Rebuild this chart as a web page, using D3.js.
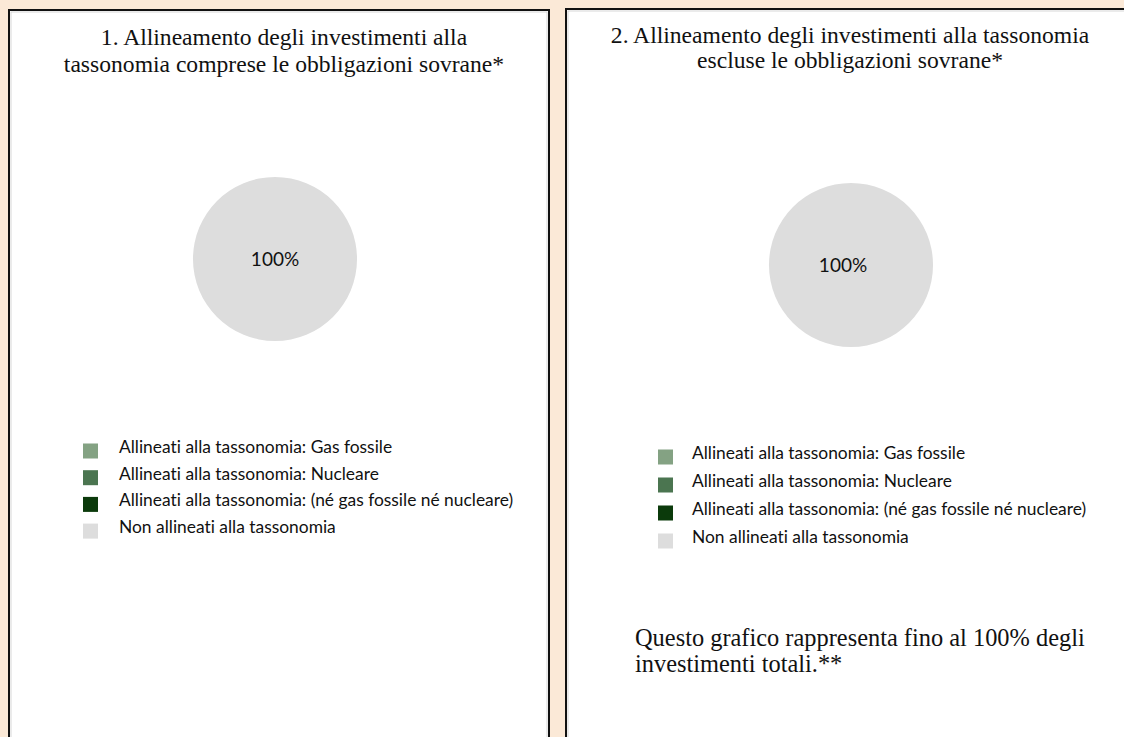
<!DOCTYPE html>
<html><head><meta charset="utf-8">
<script src="https://cdn.jsdelivr.net/npm/d3@7"></script>
<style>body{margin:0;background:#FBE9D7;}svg{display:block}text{font-variant-ligatures:none;}</style>
</head><body>
<script>
const categories = ["Allineati alla tassonomia: Gas fossile","Allineati alla tassonomia: Nucleare","Allineati alla tassonomia: (né gas fossile né nucleare)","Non allineati alla tassonomia"];
const colors = ["#84A283","#4B7550","#0B3A0B","#DDDDDD"];
const valuesIncl = [0,0,0,100];
const valuesExcl = [0,0,0,100];
const titles1 = ["1. Allineamento degli investimenti alla","tassonomia comprese le obbligazioni sovrane*"];
const titles2 = ["2. Allineamento degli investimenti alla tassonomia","escluse le obbligazioni sovrane*"];
const footnote = ["Questo grafico rappresenta fino al 100% degli","investimenti totali.**"];

const W=1124,H=737;
const svg=d3.select("body").append("svg").attr("width",W).attr("height",H);
svg.append("rect").attr("width",W).attr("height",H).attr("fill","#FBE9D7");

const panels=[
 {x:9,y:10,w:540,h:740,titles:titles1,tx:284,ty:[45,72],cx:275,cy:259,lx:83,ly:451,ldy:26.7,textx:119,vals:valuesIncl,labDx:0},
 {x:566,y:9,w:570,h:740,titles:titles2,tx:850,ty:[43,68],cx:851,cy:265,lx:658,ly:457,ldy:28,textx:692,vals:valuesExcl,labDx:-8}
];
const color=d3.scaleOrdinal().domain(categories).range(colors);
panels.forEach((p,i)=>{
  svg.append("rect").attr("x",p.x).attr("y",p.y).attr("width",p.w).attr("height",p.h)
    .attr("fill","#fff").attr("stroke","#111").attr("stroke-width",2);
  svg.append("rect").attr("x",p.x+2).attr("y",p.y+2).attr("width",p.w-4).attr("height",p.h-4)
    .attr("fill","none").attr("stroke","#ccc").attr("stroke-width",0.8);
  p.titles.forEach((t,j)=>svg.append("text").attr("x",p.tx).attr("y",p.ty[j]).attr("text-anchor","middle")
    .attr("font-family","Liberation Serif").attr("font-size",23.6).attr("fill","#111").text(t));
  const data=categories.map((c,k)=>({c,v:p.vals[k]}));
  const pie=d3.pie().sort(null).value(d=>d.v)(data);
  const arc=d3.arc().innerRadius(0).outerRadius(82);
  const g=svg.append("g").attr("transform",`translate(${p.cx},${p.cy})`);
  g.selectAll("path").data(pie).join("path").attr("d",arc).attr("fill",d=>color(d.data.c));
  pie.filter(d=>d.data.v>0).forEach(d=>{
    g.append("text").attr("x",p.labDx).attr("y",0).attr("dy","0.35em").attr("text-anchor","middle")
     .attr("font-family","Lato").attr("font-size",19).attr("fill","#111").text(d.data.v+"%");
  });
  const lg=svg.append("g");
  categories.forEach((c,k)=>{
    const y=p.ly+k*p.ldy;
    lg.append("rect").attr("x",p.lx).attr("y",y-7.5).attr("width",15).attr("height",15).attr("fill",color(c));
    lg.append("text").attr("x",p.textx).attr("y",y-4).attr("dy","0.35em")
      .attr("font-family","Lato").attr("font-size",17.4).attr("fill","#111").text(c);
  });
  if(i===1){
    footnote.forEach((t,j)=>svg.append("text").attr("x",635).attr("y",646+j*26)
      .attr("font-family","Liberation Serif").attr("font-size",24.4).attr("fill","#111").text(t));
  }
});
</script>
</body></html>
